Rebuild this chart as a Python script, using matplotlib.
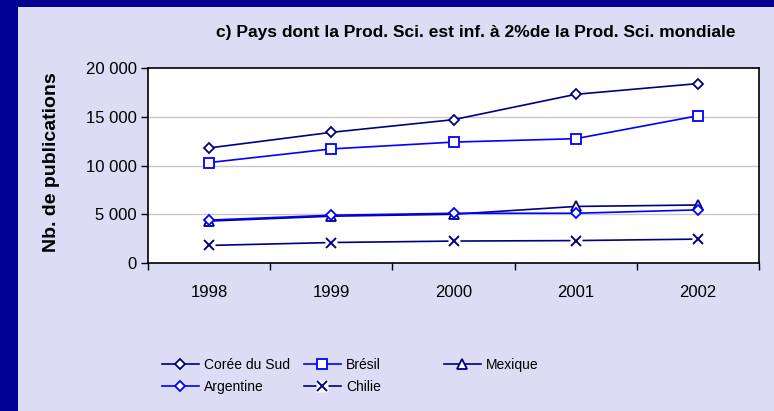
import matplotlib
matplotlib.use("Agg")
import matplotlib.pyplot as plt
from matplotlib.patches import Rectangle
from matplotlib.lines import Line2D
from matplotlib.legend_handler import HandlerTuple
from matplotlib.ticker import FixedLocator, FuncFormatter

plt.rcParams["font.family"] = ["Liberation Sans", "DejaVu Sans"]

# data
years = ["1998", "1999", "2000", "2001", "2002"]
coree = [11800, 13400, 14700, 17300, 18400]
bresil = [10300, 11700, 12400, 12750, 15100]
mexique = [4300, 4800, 5000, 5800, 5950]
argentine = [4400, 4900, 5100, 5100, 5450]
chilie = [1800, 2100, 2250, 2300, 2450]
y_ticks = [0, 5000, 10000, 15000, 20000]

navy = "#000080"
blue = "#0000FF"
bg = "#DCDCF4"
border = "#000091"

fig = plt.figure(figsize=(7.74, 4.11), dpi=100, facecolor=bg)

# dark blue frame on left and top
fig.add_artist(Rectangle((0, 0), 18 / 774, 1, transform=fig.transFigure,
                         facecolor=border, edgecolor="none", zorder=0))
fig.add_artist(Rectangle((0, 1 - 7 / 411), 1, 7 / 411, transform=fig.transFigure,
                         facecolor=border, edgecolor="none", zorder=0))

ax = fig.add_axes([148 / 774, 148 / 411, 611 / 774, 195 / 411])
ax.set_facecolor("white")
x = list(range(len(years)))

lw = 1.2
mew = 1.3
l1, = ax.plot(x, coree, color=navy, lw=lw, marker="D", ms=5.5,
              mfc="white", mec=navy, mew=mew, label="Corée du Sud", zorder=3)
l2, = ax.plot(x, bresil, color=blue, lw=lw, marker="s", ms=6.5,
              mfc="white", mec=blue, mew=mew, label="Brésil", zorder=3)
l3, = ax.plot(x, mexique, color=navy, lw=lw, marker="^", ms=6.5,
              mfc="white", mec=navy, mew=mew, label="Mexique", zorder=3)
l4, = ax.plot(x, argentine, color=blue, lw=lw, marker="D", ms=5.5,
              mfc="white", mec=blue, mew=mew, label="Argentine", zorder=3)
ax.plot(x, chilie, color=navy, lw=lw, zorder=3)
ax.plot(x, chilie, ls="none", marker="s", ms=8, mfc="white", mec="none", zorder=4)
ax.plot(x, chilie, ls="none", marker="x", ms=7, mec=navy, mew=1.4, zorder=5)

ax.set_xlim(-0.5, len(years) - 0.5)
ax.set_ylim(0, 20000)

ax.xaxis.set_major_locator(FixedLocator([i - 0.5 for i in range(len(years) + 1)]))
ax.set_xticklabels([])
ax.set_xticks(x, minor=True)
ax.set_xticklabels(years, minor=True)
ax.tick_params(axis="x", which="major", direction="out", length=5, width=1, color="black")
ax.tick_params(axis="x", which="minor", length=0, pad=16, labelsize=12)

ax.set_yticks(y_ticks)
ax.yaxis.set_major_formatter(FuncFormatter(lambda v, p: f"{int(v):,}".replace(",", " ")))
ax.tick_params(axis="y", direction="out", length=5, width=1, color="black", labelsize=12, pad=3)

for v in y_ticks[1:-1]:
    ax.axhline(v, color="#C8C8C8", lw=1, zorder=1)

for s in ax.spines.values():
    s.set_color("black")
    s.set_linewidth(1.2)

ax.set_ylabel("Nb. de publications", fontsize=14, fontweight="bold")
ax.yaxis.set_label_coords(-0.144, 0.515)

fig.text(476 / 774, 1 - 33 / 411, "c) Pays dont la Prod. Sci. est inf. à 2%de la Prod. Sci. mondiale",
         ha="center", va="center", fontsize=12.5, fontweight="bold")

# legend in three columns placed like the original
chl_line = Line2D([], [], color=navy, lw=lw)
chl_box = Line2D([], [], ls="none", marker="s", ms=9, mfc="white", mec="none")
chl_x = Line2D([], [], ls="none", marker="x", ms=7, mec=navy, mew=1.4)
cols = [([l1, l4], ["Corée du Sud", "Argentine"], 156),
        ([l2, (chl_line, chl_box, chl_x)], ["Brésil", "Chilie"], 298),
        ([l3], ["Mexique"], 438)]
for handles, labels, px in cols:
    fig.legend(handles=handles, labels=labels, loc="upper left",
               bbox_to_anchor=(px / 774, 1 - 352 / 411),
               frameon=False, fontsize=10, handlelength=2.7,
               handletextpad=0.35, labelspacing=0.62, borderaxespad=0,
               handler_map={tuple: HandlerTuple(ndivide=1, pad=0)})

fig.savefig("out.png", dpi=100, facecolor=bg)
